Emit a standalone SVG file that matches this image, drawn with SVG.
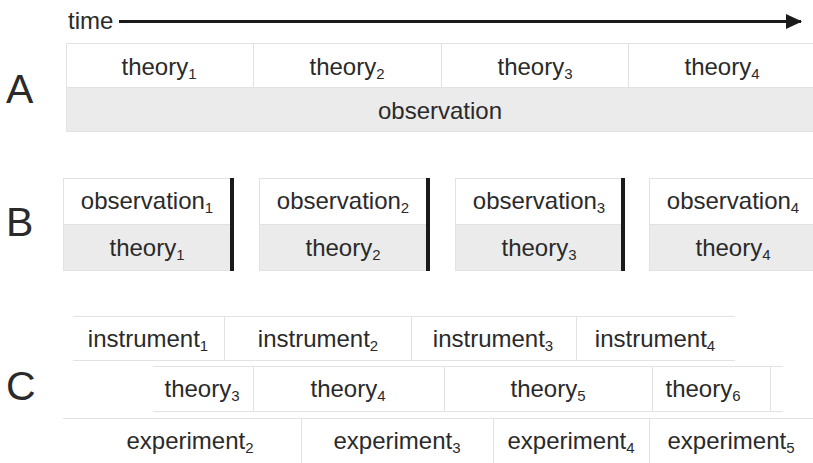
<svg xmlns="http://www.w3.org/2000/svg" width="813" height="463" viewBox="0 0 813 463">
<style>
text{font-family:"Liberation Sans",Arial,sans-serif;fill:#2a2a2a;}
.lbl{font-size:24px;text-anchor:middle;}
.big{font-size:41px;}
.sub{font-size:15px;}
.w{fill:#ffffff;stroke:#e2e2e2;stroke-width:1;}
.g{fill:#ebebeb;stroke:#e2e2e2;stroke-width:1;}
.ln{stroke:#e2e2e2;stroke-width:1;fill:none;}
.bar{stroke:#1a1a1a;stroke-width:4;}
</style>
<defs>
<marker id="ah" markerWidth="16" markerHeight="15" refX="15" refY="7.5" orient="auto" markerUnits="userSpaceOnUse" viewBox="0 0 16 15">
<path d="M0,0 L16,7.5 L0,15 z" fill="#1a1a1a"/>
</marker>
</defs>
<rect width="813" height="463" fill="#ffffff"/>
<g id="time">
<text x="68" y="29" style="font-size:24px">time</text>
</g>
<g id="connectors">
<line x1="119" y1="21.5" x2="801" y2="21.5" stroke="#1a1a1a" stroke-width="3" marker-end="url(#ah)"/>
</g>
<g id="labelA"><text x="6" y="103" class="big">A</text></g>
<g id="labelB"><text x="6" y="236" class="big">B</text></g>
<g id="labelC"><text x="6" y="400" class="big">C</text></g>

<g id="rowA">
<rect class="w" x="66.5" y="43.5" width="760" height="44"/>
<rect class="g" x="66.5" y="87.5" width="760" height="44"/>
<line class="ln" x1="253.5" y1="44" x2="253.5" y2="88"/>
<line class="ln" x1="441.5" y1="44" x2="441.5" y2="88"/>
<line class="ln" x1="628.5" y1="44" x2="628.5" y2="88"/>
<text class="lbl" x="159" y="75">theory<tspan class="sub" dy="4">1</tspan></text>
<text class="lbl" x="347" y="75">theory<tspan class="sub" dy="4">2</tspan></text>
<text class="lbl" x="535" y="75">theory<tspan class="sub" dy="4">3</tspan></text>
<text class="lbl" x="722" y="75">theory<tspan class="sub" dy="4">4</tspan></text>
<text class="lbl" x="440" y="119">observation</text>
</g>

<g id="rowB">
<g id="b1">
<rect class="w" x="63.5" y="178.5" width="168" height="46"/>
<rect class="g" x="63.5" y="224.5" width="168" height="46"/>
<line class="bar" x1="232" y1="178" x2="232" y2="271"/>
<text class="lbl" x="147" y="209">observation<tspan class="sub" dy="4">1</tspan></text>
<text class="lbl" x="147" y="256">theory<tspan class="sub" dy="4">1</tspan></text>
</g>
<g id="b2">
<rect class="w" x="259.5" y="178.5" width="168" height="46"/>
<rect class="g" x="259.5" y="224.5" width="168" height="46"/>
<line class="bar" x1="428" y1="178" x2="428" y2="271"/>
<text class="lbl" x="343" y="209">observation<tspan class="sub" dy="4">2</tspan></text>
<text class="lbl" x="343" y="256">theory<tspan class="sub" dy="4">2</tspan></text>
</g>
<g id="b3">
<rect class="w" x="455.5" y="178.5" width="167" height="46"/>
<rect class="g" x="455.5" y="224.5" width="167" height="46"/>
<line class="bar" x1="623" y1="178" x2="623" y2="271"/>
<text class="lbl" x="539" y="209">observation<tspan class="sub" dy="4">3</tspan></text>
<text class="lbl" x="539" y="256">theory<tspan class="sub" dy="4">3</tspan></text>
</g>
<g id="b4">
<rect class="w" x="649.5" y="178.5" width="180" height="46"/>
<rect class="g" x="649.5" y="224.5" width="180" height="46"/>
<text class="lbl" x="733" y="209">observation<tspan class="sub" dy="4">4</tspan></text>
<text class="lbl" x="733" y="256">theory<tspan class="sub" dy="4">4</tspan></text>
</g>
</g>

<g id="rowC">
<g id="instruments">
<line class="ln" x1="73" y1="316.5" x2="735" y2="316.5"/>
<line class="ln" x1="73" y1="360.5" x2="735" y2="360.5"/>
<line class="ln" x1="224.5" y1="316" x2="224.5" y2="361"/>
<line class="ln" x1="411.5" y1="316" x2="411.5" y2="361"/>
<line class="ln" x1="576.5" y1="316" x2="576.5" y2="361"/>
<text class="lbl" x="148" y="347">instrument<tspan class="sub" dy="4">1</tspan></text>
<text class="lbl" x="318" y="347">instrument<tspan class="sub" dy="4">2</tspan></text>
<text class="lbl" x="493" y="347">instrument<tspan class="sub" dy="4">3</tspan></text>
<text class="lbl" x="655" y="347">instrument<tspan class="sub" dy="4">4</tspan></text>
</g>
<g id="theories">
<line class="ln" x1="153" y1="366.5" x2="783" y2="366.5"/>
<line class="ln" x1="153" y1="411.5" x2="783" y2="411.5"/>
<line class="ln" x1="253.5" y1="366" x2="253.5" y2="412"/>
<line class="ln" x1="444.5" y1="366" x2="444.5" y2="412"/>
<line class="ln" x1="652.5" y1="366" x2="652.5" y2="412"/>
<line class="ln" x1="770.5" y1="366" x2="770.5" y2="412"/>
<text class="lbl" x="202" y="397">theory<tspan class="sub" dy="4">3</tspan></text>
<text class="lbl" x="348" y="397">theory<tspan class="sub" dy="4">4</tspan></text>
<text class="lbl" x="548" y="397">theory<tspan class="sub" dy="4">5</tspan></text>
<text class="lbl" x="703" y="397">theory<tspan class="sub" dy="4">6</tspan></text>
</g>
<g id="experiments">
<line class="ln" x1="63" y1="418.5" x2="813" y2="418.5"/>
<line class="ln" x1="301.5" y1="418" x2="301.5" y2="463"/>
<line class="ln" x1="493.5" y1="418" x2="493.5" y2="463"/>
<line class="ln" x1="649.5" y1="418" x2="649.5" y2="463"/>
<text class="lbl" x="190" y="449">experiment<tspan class="sub" dy="4">2</tspan></text>
<text class="lbl" x="397" y="449">experiment<tspan class="sub" dy="4">3</tspan></text>
<text class="lbl" x="571" y="449">experiment<tspan class="sub" dy="4">4</tspan></text>
<text class="lbl" x="731" y="449">experiment<tspan class="sub" dy="4">5</tspan></text>
</g>
</g>
</svg>
